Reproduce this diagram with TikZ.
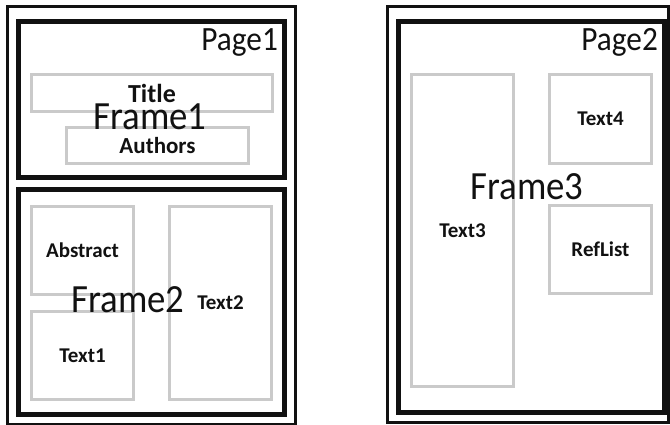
\documentclass[tikz,border=0pt]{standalone}
\usepackage{fontspec}
\setmainfont{Carlito}
\definecolor{plInk}{HTML}{111111}
\definecolor{plGrey}{HTML}{CACACA}
\newcommand{\PLType}[1]{\fontsize{#1}{#1}\selectfont}
\newcommand{\PLNarrow}[1]{\scalebox{.92}[1]{#1}}
\tikzset{pl/base/.style={x=1pt,y=1pt,line cap=butt,line join=miter,
  every node/.style={inner sep=0pt,text=plInk}},
  pl/page/.style={draw=plInk,line width=3pt},
  pl/frame/.style={draw=plInk,line width=5pt},
  pl/box/.style={draw=plGrey,line width=3pt,inner sep=0pt,
    font=\PLType{21}\bfseries},
  pl/big/.style={font=\PLType{40}},
  pl/corner/.style={font=\PLType{34},anchor=north east}}

\begin{document}
\begin{tikzpicture}[pl/base,y=-1pt]
  \useasboundingbox (0,0) rectangle (670,425);
  % pages and frames
  \draw[pl/page] (7,7) rectangle (295,424);
  \draw[pl/frame] (18,22) rectangle (284,178);
  \draw[pl/frame] (18,190) rectangle (284,414);
  \draw[pl/page] (387,7) rectangle (668,422);
  \draw[pl/frame] (398,22) rectangle (664,412);
  \node[pl/corner] (page1) at (278,28) {\PLNarrow{Page1}};
  \node[pl/corner] (page2) at (658,28) {\PLNarrow{Page2}};
  % content boxes
  \foreach \x/\y/\w/\h/\name/\label/\size in {
    152/93/241/37/title/Title/26,
    157.5/145.5/182/36/authors/Authors/23,
    82.5/250.5/102/88/abstract/Abstract/21,
    82.5/355.5/102/88/text1/Text1/21,
    220.5/303/102/193/text2/Text2/21,
    462.5/230.5/102/312/text3/Text3/21,
    600.5/119/102/89/text4/Text4/21,
    600.5/249.5/102/88/reflist/RefList/21}{
    \node[pl/box,minimum width=\w pt,minimum height=\h pt,
      font=\PLType{\size}\bfseries] (\name) at (\x,\y) {\label};}
  \node[pl/big] (frame1) at (150,117) {\PLNarrow{Frame1}};
  \node[pl/big] (frame2) at (128,300) {\PLNarrow{Frame2}};
  \node[pl/big] (frame3) at (527,187) {\PLNarrow{Frame3}};
\end{tikzpicture}
\end{document}
